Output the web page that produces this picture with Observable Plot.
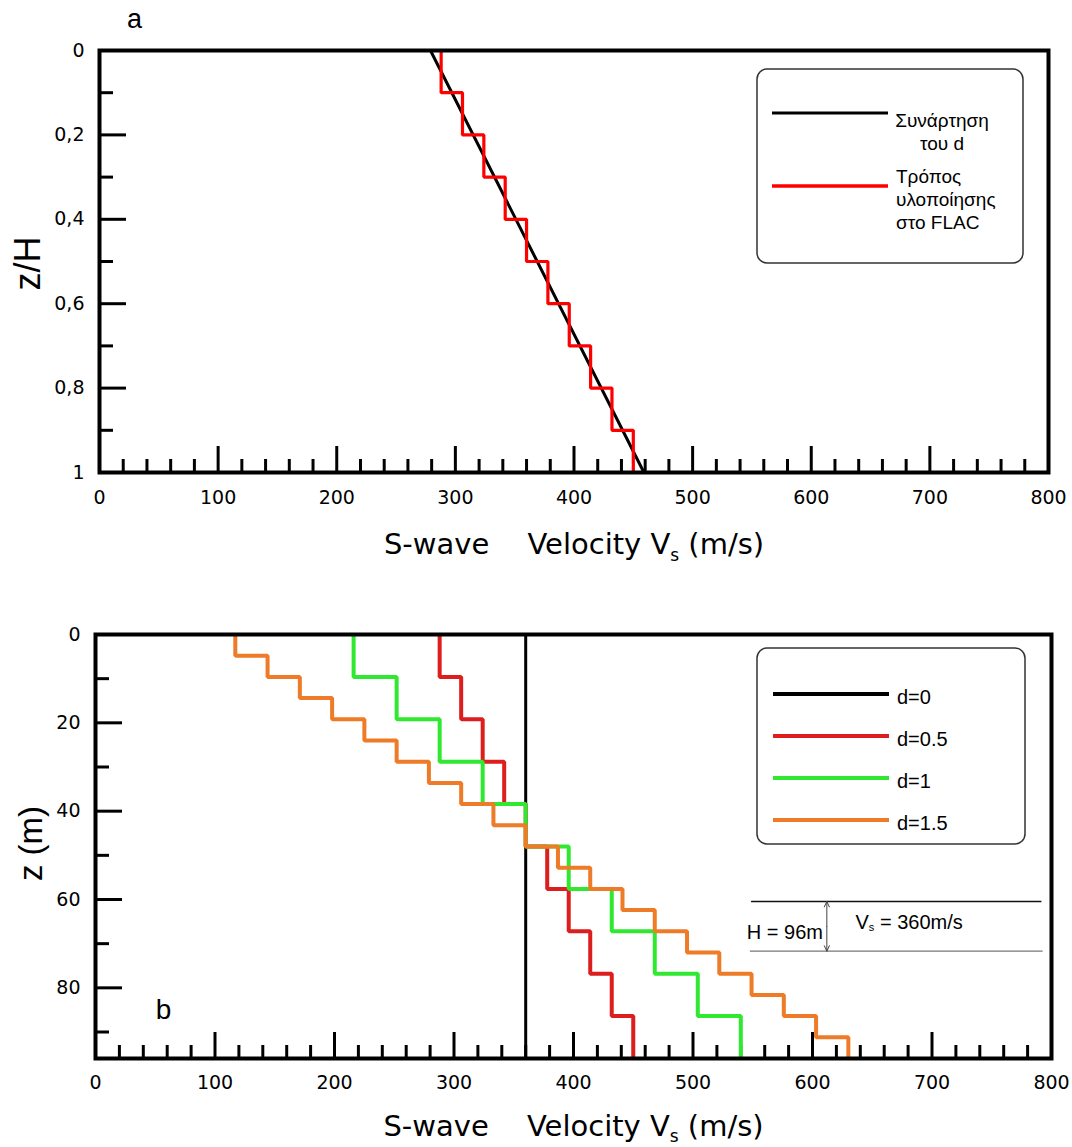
<!DOCTYPE html>
<html>
<head>
<meta charset="utf-8">
<script src="https://cdn.jsdelivr.net/npm/d3@7"></script>
<script src="https://cdn.jsdelivr.net/npm/@observablehq/plot@0.6"></script>
<style>
  html, body { margin: 0; padding: 0; background: #fff; }
  #chart svg { display: block; }
</style>
</head>
<body>
<div id="chart"></div>
<script>
// ---- Panel a: normalised profile (z/H) and its layered FLAC version ----
const aLinearZ = [0, 1];
const aLinearVs = [279, 459];
const aLayerVs = [288, 306, 324, 342, 360, 378, 396, 414, 432, 450];
const aLegendLabels = [["Συνάρτηση", "του d"], ["Τρόπος", "υλοποίησης", "στο FLAC"]];
const aLegendColors = ["#000000", "#ff0000"];

// ---- Panel b: layered Vs profiles, H = 96 m ----
const bDepth = 96;
const bSeries = ["d=0", "d=0.5", "d=1", "d=1.5"];
const bColors = ["#000000", "#dc1e1e", "#2fe82f", "#ee7b27"];
const vsD0 = [360];
const vsD05 = [288, 306, 324, 342, 360, 378, 396, 414, 432, 450];
const vsD1 = [216, 252, 288, 324, 360, 396, 432, 468, 504, 540];
const vsD15 = [117, 144, 171, 198, 225, 252, 279, 306, 333, 360,
               387, 414, 441, 468, 495, 522, 549, 576, 603, 630];

// uniform-layer sketch (H = 96 m, Vs = 360 m/s)
const sketchZ = [60.45, 71.7];
const sketchVs = [549, 792];
const sketchArrowVs = 612;
const sketchLabels = ["H = 96m", "V_s = 360m/s"];
const sketchLabelVs = [545, 636];
const sketchLabelZ = [69.05, 66.6];

// ---- Axes ----
const xMajor = [0, 100, 200, 300, 400, 500, 600, 700, 800];
const xMinor = d3.range(20, 800, 20).filter(v => v % 100 !== 0);
const aYMajor = [0, 0.2, 0.4, 0.6, 0.8, 1];
const aYMinor = [0.1, 0.3, 0.5, 0.7, 0.9];
const bYMajor = [0, 20, 40, 60, 80];
const bYMinor = [10, 30, 50, 70, 90];
const xTitle = "S-wave\u2003 Velocity V_s (m/s)";

const W = 1072;
const SANS = "'Liberation Sans', Arial, sans-serif";
const WIDE = "'DejaVu Sans', sans-serif";
const commaDecimal = d => String(d).replace(".", ",");

// step profile: each layer is a vertical segment, joined by horizontal jumps
function layerPoints(values, depth, series) {
  const n = values.length;
  return values.flatMap((vs, i) => [
    {vs, z: depth * i / n, series},
    {vs, z: depth * (i + 1) / n, series}
  ]);
}

// inward ticks along the bottom and left edges of the frame
function frameTicks(yMajor, yMinor, fw, fh) {
  const tick = {stroke: "#000", strokeWidth: 3};
  return [
    Plot.ruleX(xMajor.slice(1, -1), {x: d => d, insetTop: fh - 26, ...tick}),
    Plot.ruleX(xMinor, {x: d => d, insetTop: fh - 13, ...tick}),
    Plot.ruleY(yMajor.slice(1), {y: d => d, insetRight: fw - 27, ...tick}),
    Plot.ruleY(yMinor, {y: d => d, insetRight: fw - 14, ...tick})
  ];
}

// "V_s" -> V with a subscript s
function subscripts(svg, subSize, shift) {
  d3.select(svg).selectAll("text").each(function () {
    const s = this.textContent;
    if (this.childElementCount || !s.includes("_s")) return;
    const [head, tail] = s.split("_s");
    const t = d3.select(this).text(null);
    t.append("tspan").text(head);
    t.append("tspan").attr("font-size", subSize).attr("dy", shift).text("s");
    t.append("tspan").attr("dy", -shift).text(tail);
  });
}

function drawLegend(svg, box, entries) {
  const g = d3.select(svg).append("g")
    .attr("transform", `translate(${box.left},${box.top})`)
    .attr("font-family", SANS).attr("font-size", box.fontSize).attr("fill", "#000");
  g.append("rect").attr("width", box.width).attr("height", box.height)
    .attr("rx", 10).attr("fill", "#fff").attr("stroke", "#333").attr("stroke-width", 1.5);
  for (const e of entries) {
    g.append("line").attr("x1", box.lineX1).attr("x2", box.lineX2)
      .attr("y1", e.y).attr("y2", e.y).attr("stroke", e.color).attr("stroke-width", e.width);
    e.lines.forEach((t, j) => g.append("text")
      .attr("x", e.textX).attr("y", e.textY + j * box.lineHeight)
      .attr("text-anchor", e.anchor).text(t));
  }
}

// ================= Panel a =================
const A = {height: 580, top: 50, bottom: 108, left: 99, right: 24};
const fwA = W - A.left - A.right, fhA = A.height - A.top - A.bottom;
const aLinear = aLinearZ.map((z, i) => ({z, vs: aLinearVs[i]}));
const aSteps = layerPoints(aLayerVs, 1, "FLAC");

const panelA = Plot.plot({
  width: W, height: A.height,
  marginTop: A.top, marginBottom: A.bottom, marginLeft: A.left, marginRight: A.right,
  style: {fontFamily: WIDE, fontSize: "19px", color: "#000", background: "#fff"},
  x: {domain: [0, 800]},
  y: {domain: [0, 1], reverse: true},
  marks: [
    Plot.axisX({ticks: xMajor, tickSize: 0, tickPadding: 18, label: null}),
    Plot.axisY({ticks: aYMajor, tickSize: 0, tickPadding: 15, label: null, tickFormat: commaDecimal}),
    ...frameTicks(aYMajor, aYMinor, fwA, fhA),
    Plot.line(aLinear, {x: "vs", y: "z", stroke: "#000", strokeWidth: 3}),
    Plot.line(aSteps, {x: "vs", y: "z", stroke: "#ff0000", strokeWidth: 3.2,
      strokeLinejoin: "miter", strokeLinecap: "butt"}),
    Plot.text(["z/H"], {text: d => d, frameAnchor: "left", dx: -60, dy: 2, rotate: -90,
      lineAnchor: "bottom", textAnchor: "middle", fontFamily: SANS, fontSize: 36}),
    Plot.text([xTitle], {text: d => d, frameAnchor: "bottom", dy: 81, lineAnchor: "bottom",
      textAnchor: "middle", fontSize: 29}),
    Plot.text(["a"], {text: d => d, frameAnchor: "top-left", dx: 35, dy: -23,
      lineAnchor: "bottom", textAnchor: "middle", fontFamily: SANS, fontSize: 27}),
    Plot.frame({stroke: "#000", strokeWidth: 4})
  ]
});
subscripts(panelA, 17, 7);
drawLegend(panelA,
  {left: W - A.right - 291, top: A.top + 19, width: 266, height: 194,
   lineX1: 15, lineX2: 131, fontSize: 19, lineHeight: 23},
  [
    {color: aLegendColors[0], width: 3, y: 44, lines: aLegendLabels[0], textX: 185, textY: 58, anchor: "middle"},
    {color: aLegendColors[1], width: 3.5, y: 117, lines: aLegendLabels[1], textX: 139, textY: 114, anchor: "start"}
  ]);

// ================= Panel b =================
const B = {height: 567, top: 54, bottom: 89, left: 95, right: 21};
const fwB = W - B.left - B.right, fhB = B.height - B.top - B.bottom;
const bProfiles = [vsD0, vsD05, vsD1, vsD15].map((v, i) => layerPoints(v, bDepth, bSeries[i]));
const sketchArrow = [{vs: sketchArrowVs, mid: (sketchZ[0] + sketchZ[1]) / 2}];
const sketchText = sketchLabels.map((label, i) => ({label, vs: sketchLabelVs[i], z: sketchLabelZ[i]}));

const panelB = Plot.plot({
  width: W, height: B.height,
  marginTop: B.top, marginBottom: B.bottom, marginLeft: B.left, marginRight: B.right,
  style: {fontFamily: WIDE, fontSize: "19px", color: "#000", background: "#fff"},
  x: {domain: [0, 800]},
  y: {domain: [0, bDepth], reverse: true},
  color: {domain: bSeries, range: bColors},
  marks: [
    Plot.axisX({ticks: xMajor, tickSize: 0, tickPadding: 17, label: null}),
    Plot.axisY({ticks: bYMajor, tickSize: 0, tickPadding: 15, label: null}),
    ...frameTicks(bYMajor, bYMinor, fwB, fhB),
    ...bProfiles.map((pts, i) => Plot.line(pts, {x: "vs", y: "z", stroke: "series",
      strokeWidth: i === 0 ? 3 : 4, strokeLinejoin: "miter", strokeLinecap: "butt"})),
    // uniform layer sketch
    Plot.ruleY([sketchZ[0]], {y: d => d, x1: sketchVs[0], x2: sketchVs[1], stroke: "#111", strokeWidth: 1.5}),
    Plot.ruleY([sketchZ[1]], {y: d => d, x1: sketchVs[0] - 1, x2: sketchVs[1] + 1, stroke: "#777", strokeWidth: 1.2}),
    Plot.arrow(sketchArrow, {x1: "vs", x2: "vs", y1: "mid", y2: () => sketchZ[0],
      stroke: "#444", strokeWidth: 1, headLength: 9, headAngle: 50}),
    Plot.arrow(sketchArrow, {x1: "vs", x2: "vs", y1: "mid", y2: () => sketchZ[1],
      stroke: "#444", strokeWidth: 1, headLength: 9, headAngle: 50}),
    Plot.text(sketchText, {x: "vs", y: "z", text: "label", textAnchor: "start",
      lineAnchor: "bottom", fontFamily: SANS, fontSize: 20}),
    Plot.text(["z (m)"], {text: d => d, frameAnchor: "left", dx: -54, dy: -3, rotate: -90,
      lineAnchor: "bottom", textAnchor: "middle", fontFamily: SANS, fontSize: 33}),
    Plot.text([xTitle], {text: d => d, frameAnchor: "bottom", dy: 77, lineAnchor: "bottom",
      textAnchor: "middle", fontSize: 29}),
    Plot.text(["b"], {text: d => d, frameAnchor: "bottom-left", dx: 68, dy: -40,
      lineAnchor: "bottom", textAnchor: "middle", fontFamily: SANS, fontSize: 28}),
    Plot.frame({stroke: "#000", strokeWidth: 4})
  ]
});
// the axis title gets a larger subscript than the sketch label
d3.select(panelB).selectAll("text").filter(function () { return this.textContent === xTitle; })
  .classed("xtitle", true);
subscripts(panelB, 17, 6);
d3.select(panelB).selectAll("text").filter(function () {
  return !this.classList.contains("xtitle") && this.textContent.startsWith("Vs");
}).each(function () {
  d3.select(this).selectAll("tspan").filter((d, i) => i === 1).attr("font-size", 11).attr("dy", 2);
  d3.select(this).selectAll("tspan").filter((d, i) => i === 2).attr("dy", -2);
});
drawLegend(panelB,
  {left: W - B.right - 294, top: B.top + 14, width: 268, height: 196,
   lineX1: 16, lineX2: 132, fontSize: 20, lineHeight: 22},
  bSeries.map((name, i) => ({color: bColors[i], width: 4, y: 46 + 42 * i, lines: [name],
    textX: 140, textY: 56 + 42 * i, anchor: "start"})));

document.getElementById("chart").append(panelA, panelB);
</script>
</body>
</html>
